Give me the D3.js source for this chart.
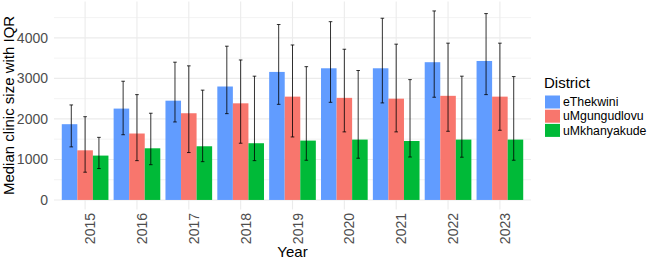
<!DOCTYPE html>
<html>
<head>
<meta charset="utf-8">
<script src="https://cdn.jsdelivr.net/npm/d3@7"></script>
<style>
  html, body { margin: 0; padding: 0; background: #fff; }
  svg text { font-family: "Liberation Sans", Arial, sans-serif; }
</style>
</head>
<body>
<svg id="chart" width="660" height="262"></svg>
<script>
// data
const years = ["2015", "2016", "2017", "2018", "2019", "2020", "2021", "2022", "2023"];
const districts = ["eThekwini", "uMgungudlovu", "uMkhanyakude"];
const colours = ["#619CFF", "#F8766D", "#00BA38"];

const medianEThekwini = [1870, 2255, 2450, 2800, 3160, 3250, 3250, 3400, 3430];
const q1EThekwini     = [1310, 1610, 1925, 2130, 2360, 2410, 2395, 2535, 2600];
const q3EThekwini     = [2345, 2930, 3400, 3795, 4330, 4400, 4485, 4665, 4600];

const medianUMgungudlovu = [1225, 1640, 2140, 2385, 2550, 2520, 2500, 2570, 2550];
const q1UMgungudlovu     = [685, 970, 1170, 1400, 1555, 1680, 1680, 1695, 1720];
const q3UMgungudlovu     = [2055, 2600, 3310, 3455, 3825, 3720, 3845, 3870, 3870];

const medianUMkhanyakude = [1095, 1275, 1325, 1400, 1465, 1490, 1455, 1490, 1490];
const q1UMkhanyakude     = [775, 870, 945, 970, 980, 1030, 1060, 1055, 980];
const q3UMkhanyakude     = [1545, 2140, 2710, 3055, 3290, 3195, 2970, 3055, 3045];

const yTicks = [0, 1000, 2000, 3000, 4000];
const yMinor = [500, 1500, 2500, 3500, 4500];

const series = [
  { name: districts[0], med: medianEThekwini, lo: q1EThekwini, hi: q3EThekwini },
  { name: districts[1], med: medianUMgungudlovu, lo: q1UMgungudlovu, hi: q3UMgungudlovu },
  { name: districts[2], med: medianUMkhanyakude, lo: q1UMkhanyakude, hi: q3UMkhanyakude },
];

const rows = [];
series.forEach((s, j) => {
  years.forEach((yr, i) => {
    rows.push({ year: yr, district: s.name, j, med: s.med[i], lo: s.lo[i], hi: s.hi[i] });
  });
});

// ============================================================
//  Layout
// ============================================================
const svg = d3.select('#chart');
const panel = { left: 54, right: 531, top: 1.5, bottom: 209.4 };

const x = d3.scaleBand()
  .domain(years)
  .range([panel.left, panel.right])
  .paddingInner(0)
  .paddingOuter(0.1);
const step = x.step();
const cx = d => x(d) + step / 2;

const xInner = d3.scaleBand()
  .domain(districts)
  .range([-0.45 * step, 0.45 * step]);

// ggplot style 5% expansion
const yMax = d3.max(rows, d => d.hi);
const pad = yMax * 0.05;
const y = d3.scaleLinear()
  .domain([-pad, yMax + pad])
  .range([panel.bottom, panel.top]);

// grid
const grid = svg.append('g');
grid.selectAll('.minor').data(yMinor).enter().append('line')
  .attr('x1', panel.left).attr('x2', panel.right)
  .attr('y1', d => y(d)).attr('y2', d => y(d))
  .attr('stroke', '#EBEBEB').attr('stroke-width', 0.6);
grid.selectAll('.major').data(yTicks).enter().append('line')
  .attr('x1', panel.left).attr('x2', panel.right)
  .attr('y1', d => y(d)).attr('y2', d => y(d))
  .attr('stroke', '#EBEBEB').attr('stroke-width', 1.1);
grid.selectAll('.vmajor').data(years).enter().append('line')
  .attr('x1', d => cx(d)).attr('x2', d => cx(d))
  .attr('y1', panel.top).attr('y2', panel.bottom)
  .attr('stroke', '#EBEBEB').attr('stroke-width', 1.1);

// bars
svg.append('g').selectAll('rect').data(rows).enter().append('rect')
  .attr('x', d => cx(d.year) + xInner(d.district))
  .attr('width', xInner.bandwidth())
  .attr('y', d => y(d.med))
  .attr('height', d => y(0) - y(d.med))
  .attr('fill', d => colours[d.j]);

// error bars, dodged at 0.8
const eb = svg.append('g')
  .attr('stroke', '#000').attr('stroke-opacity', 0.8).attr('stroke-width', 1);
const ebX = d => cx(d.year) + (d.j - 1) * 0.8 / 3 * step;
const cap = 1.8;
eb.selectAll('.v').data(rows).enter().append('line')
  .attr('x1', ebX).attr('x2', ebX)
  .attr('y1', d => y(d.lo)).attr('y2', d => y(d.hi));
eb.selectAll('.t').data(rows).enter().append('line')
  .attr('x1', d => ebX(d) - cap).attr('x2', d => ebX(d) + cap)
  .attr('y1', d => y(d.hi)).attr('y2', d => y(d.hi));
eb.selectAll('.b').data(rows).enter().append('line')
  .attr('x1', d => ebX(d) - cap).attr('x2', d => ebX(d) + cap)
  .attr('y1', d => y(d.lo)).attr('y2', d => y(d.lo));

// y tick labels
svg.append('g').selectAll('text').data(yTicks).enter().append('text')
  .attr('x', 48).attr('y', d => y(d)).attr('dy', '0.35em')
  .attr('text-anchor', 'end')
  .attr('font-size', 14).attr('fill', '#4D4D4D')
  .text(d => d);

// x tick labels, rotated
svg.append('g').selectAll('text').data(years).enter().append('text')
  .attr('transform', d => `translate(${cx(d)},213) rotate(-90)`)
  .attr('text-anchor', 'end').attr('dy', '0.72em')
  .attr('font-size', 14).attr('fill', '#4D4D4D')
  .text(d => d);

// axis titles
svg.append('text')
  .attr('x', (panel.left + panel.right) / 2).attr('y', 257)
  .attr('text-anchor', 'middle').attr('font-size', 15).attr('fill', '#000')
  .text('Year');
svg.append('text')
  .attr('transform', `translate(14,${(panel.top + panel.bottom) / 2}) rotate(-90)`)
  .attr('text-anchor', 'middle').attr('font-size', 15).attr('fill', '#000')
  .text('Median clinic size with IQR');

// legend
const legend = svg.append('g').attr('transform', 'translate(544,0)');
legend.append('text')
  .attr('x', 0).attr('y', 88)
  .attr('font-size', 15).attr('fill', '#000')
  .text('District');
const items = legend.selectAll('.item').data(districts).enter().append('g')
  .attr('transform', (d, i) => `translate(0,${94.5 + i * 14.2})`);
items.append('rect')
  .attr('x', 1).attr('y', 1).attr('width', 15).attr('height', 13)
  .attr('fill', (d, i) => colours[i]);
items.append('text')
  .attr('x', 19).attr('y', 7.5).attr('dy', '0.35em')
  .attr('font-size', 12.3).attr('fill', '#000')
  .text(d => d);
</script>
</body>
</html>
